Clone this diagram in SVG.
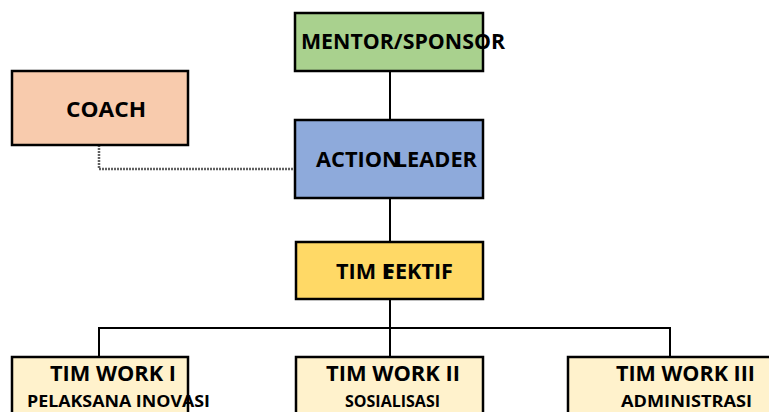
<svg xmlns="http://www.w3.org/2000/svg" width="769" height="412" viewBox="0 0 769 412">
<style>
.f{stroke:none}
.b{fill:none;stroke:#000;stroke-width:2.5}
.t{font-family:"Open Sans","Liberation Sans",sans-serif;font-weight:bold;fill:#000}
.m{font-size:22px}
.s{font-size:16px}
.c{fill:none;stroke:#000;stroke-width:2}
.d{fill:none;stroke:#606060;stroke-width:2.5;stroke-dasharray:2 1}
</style>
<rect width="769" height="412" fill="#fff"/>
<g id="connectors">
<line class="c" x1="390" y1="71" x2="390" y2="120"/>
<line class="c" x1="390" y1="198" x2="390" y2="242"/>
<line class="c" x1="390" y1="299" x2="390" y2="357"/>
<polyline class="c" points="99,357 99,328 670,328 670,357"/>
<polyline class="d" points="99,145 99,169 295,169"/>
</g>
<g id="mentor">
<rect class="f" x="295" y="13" width="188" height="58" fill="#A9D18E"/>
<text class="t m" x="301" y="49" textLength="204" lengthAdjust="spacingAndGlyphs">MENTOR/SPONSOR</text>
<rect class="b" x="295" y="13" width="188" height="58"/>
</g>
<g id="coach">
<rect class="f" x="12" y="71" width="176" height="74" fill="#F8CBAD"/>
<text class="t m" x="66" y="117" textLength="80" lengthAdjust="spacingAndGlyphs">COACH</text>
<rect class="b" x="12" y="71" width="176" height="74"/>
</g>
<g id="action-leader">
<rect class="f" x="295" y="120" width="188" height="78" fill="#8EAADB"/>
<text class="t m" x="316" y="167" textLength="161" lengthAdjust="spacingAndGlyphs">ACTION<tspan dx="-5">LEADER</tspan></text>
<rect class="b" x="295" y="120" width="188" height="78"/>
</g>
<g id="tim-efektif">
<rect class="f" x="296" y="242" width="187" height="57" fill="#FFD966"/>
<text class="t m" x="336" y="279" textLength="117" lengthAdjust="spacingAndGlyphs">TIM E<tspan dx="-11">FEKTIF</tspan></text>
<rect class="b" x="296" y="242" width="187" height="57"/>
</g>
<g id="tim-work-1">
<rect class="f" x="12" y="357" width="176" height="60" fill="#FFF2CC"/>
<text class="t m" x="50" y="381" textLength="126" lengthAdjust="spacingAndGlyphs">TIM WORK I</text>
<text class="t s" x="27" y="407" textLength="183" lengthAdjust="spacingAndGlyphs">PELAKSANA INOVASI</text>
<rect class="b" x="12" y="357" width="176" height="60"/>
</g>
<g id="tim-work-2">
<rect class="f" x="296" y="357" width="187" height="60" fill="#FFF2CC"/>
<text class="t m" x="326" y="381" textLength="134" lengthAdjust="spacingAndGlyphs">TIM WORK II</text>
<text class="t s" x="345" y="407" textLength="95" lengthAdjust="spacingAndGlyphs">SOSIALISASI</text>
<rect class="b" x="296" y="357" width="187" height="60"/>
</g>
<g id="tim-work-3">
<rect class="f" x="568" y="357" width="210" height="60" fill="#FFF2CC"/>
<text class="t m" x="616" y="381" textLength="139" lengthAdjust="spacingAndGlyphs">TIM WORK III</text>
<text class="t s" x="621" y="407" textLength="131" lengthAdjust="spacingAndGlyphs">ADMINISTRASI</text>
<rect class="b" x="568" y="357" width="210" height="60"/>
</g>
</svg>
